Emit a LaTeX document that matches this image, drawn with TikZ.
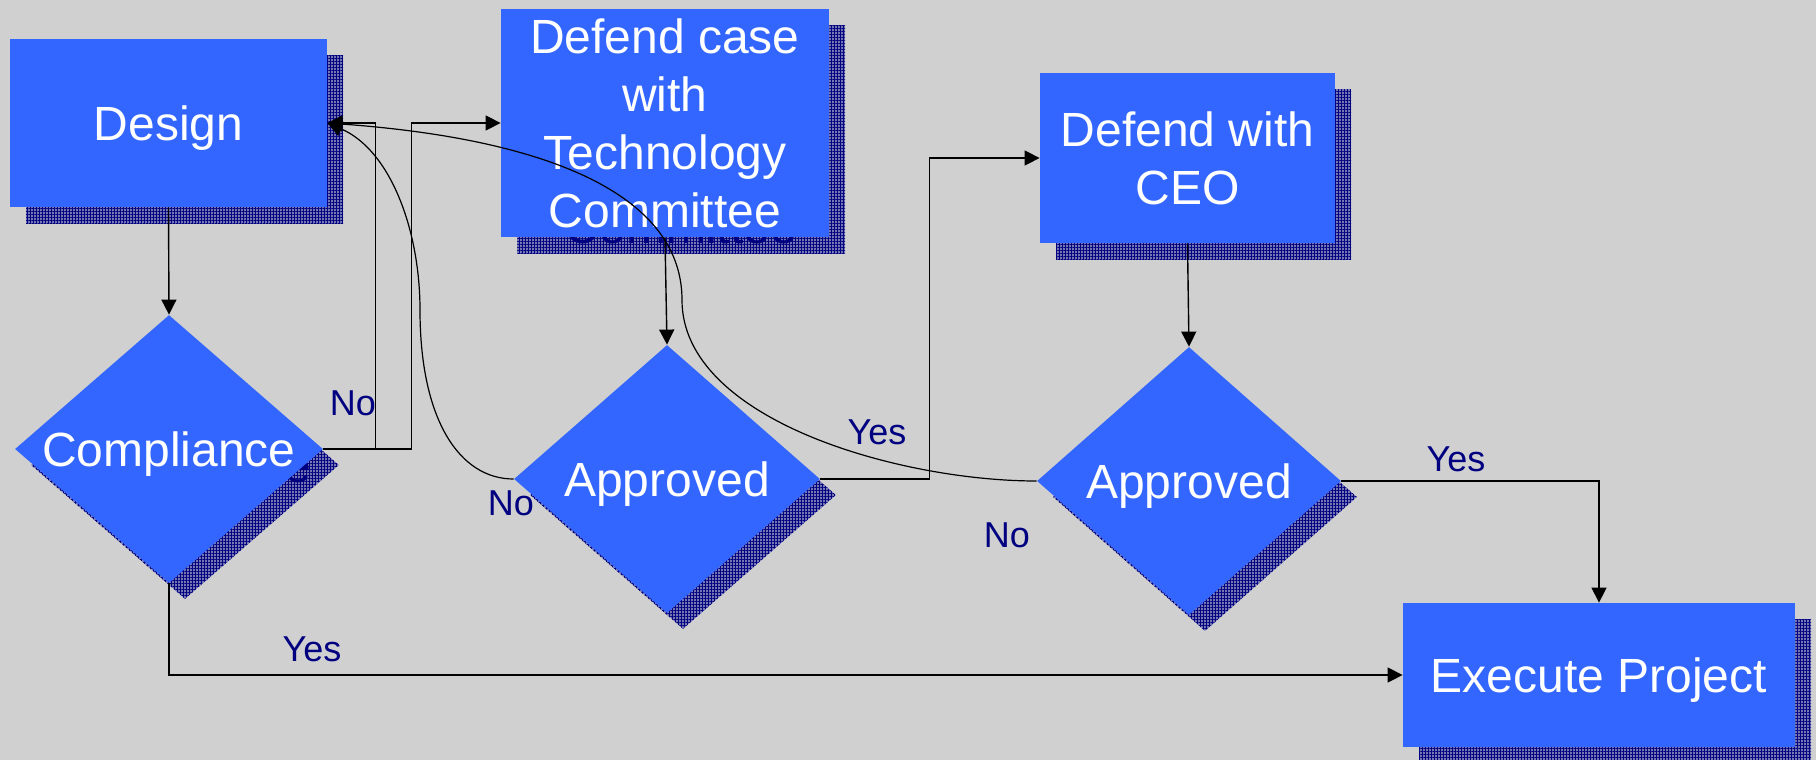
\documentclass[tikz,border=0pt]{standalone}
\usepackage{fontspec}
\setmainfont{Liberation Sans}
\usetikzlibrary{shapes.geometric,arrows.meta,patterns.meta}
\definecolor{bgc}{RGB}{208,208,208}
\definecolor{boxc}{RGB}{51,102,255}
\definecolor{shc}{RGB}{118,118,178}
\definecolor{navyc}{RGB}{0,0,128}
\tikzset{
  nodefont/.style={font=\fontsize{24pt}{29pt}\selectfont},
  box/.style={rectangle, fill=boxc, text=white, inner sep=0pt, align=center, text depth=0pt, nodefont},
  boxsh/.style={rectangle, fill=shc, postaction={pattern={Hatch[angle=0,distance=1.5pt,line width=0.3pt]}, pattern color=navyc}, text=navyc, inner sep=0pt, align=center, text depth=0pt, nodefont},
  dia/.style={diamond, aspect=1.15, fill=boxc, text=white, inner sep=0pt, text depth=0pt, nodefont},
  diash/.style={diamond, aspect=1.15, fill=shc, postaction={pattern={Hatch[angle=0,distance=1.5pt,line width=0.3pt]}, pattern color=navyc}, text=navyc, inner sep=0pt, text depth=0pt, nodefont},
  lbl/.style={text=navyc, inner sep=0pt, font=\fontsize{18pt}{22pt}\selectfont},
  arr/.style={line width=0.7pt, -{Triangle[length=7.5pt,width=7.5pt]}},
  carr/.style={line width=0.6pt, -{Triangle[length=7.5pt,width=7.5pt]}},
}
\begin{document}
\begin{tikzpicture}[x=0.5pt,y=-0.5pt]
\fill[bgc] (0,0) rectangle (1816,760);
\useasboundingbox (0,0) rectangle (1816,760);

% shadows
\node[boxsh, minimum width=158.5pt, minimum height=84pt] (designsh) at (184.5,139) {Design};
\node[boxsh, minimum width=164pt, minimum height=114pt] (dtcsh) at (681,139) {Defend case\\with\\Technology\\Committee};
\node[boxsh, minimum width=147.5pt, minimum height=85pt] (ceosh) at (1203.5,174) {Defend with\\CEO};
\node[boxsh, minimum width=196pt, minimum height=72pt] (execsh) at (1615,691) {Execute Project};
\node[diash, minimum width=154pt, minimum height=134pt] (complsh) at (185,465) {Compliance};
\node[diash, minimum width=153pt, minimum height=134pt] (appr1sh) at (683,495) {Approved};
\node[diash, minimum width=152pt, minimum height=134pt] (appr2sh) at (1205,497) {Approved};

% labels
\node[lbl] (l1) at (353,403) {No};
\node[lbl] (l2) at (511,503) {No};
\node[lbl] (l3) at (877,432) {Yes};
\node[lbl] (l4) at (1007,535) {No};
\node[lbl] (l5) at (1456,459) {Yes};
\node[lbl] (l6) at (312,649) {Yes};

% main nodes
\node[box, minimum width=158.5pt, minimum height=84pt] (design) at (168.5,123) {Design};
\node[box, minimum width=164pt, minimum height=114pt] (dtc) at (665,123) {Defend case\\with\\Technology\\Committee};
\node[box, minimum width=147.5pt, minimum height=85pt] (ceo) at (1187.5,158) {Defend with\\CEO};
\node[box, minimum width=196pt, minimum height=72pt] (exec) at (1599,675) {Execute Project};
\node[dia, minimum width=154pt, minimum height=134pt] (compl) at (169,449) {Compliance};
\node[dia, minimum width=153pt, minimum height=134pt] (appr1) at (667,479) {Approved};
\node[dia, minimum width=152pt, minimum height=134pt] (appr2) at (1189,481) {Approved};

\coordinate (ca) at (420,310);
\coordinate (cb) at (682,300);

% connectors
\draw[arr] (design.south) -- (compl.north);
\draw[arr] (compl.east) -| ([xshift=24pt]design.east) -- (design.east);
\draw[arr] (compl.east) -| ([xshift=-44.5pt]dtc.west) -- (dtc.west);
\draw[arr] (dtc.south) -- (appr1.north);
\draw[arr] (appr1.east) -| ([xshift=-55pt]ceo.west) -- (ceo.west);
\draw[arr] (ceo.south) -- (appr2.north);
\draw[arr] (appr2.east) -| (exec.north);
\draw[arr] (compl.south) |- (exec.west);
\draw[carr] (appr1.west) .. controls +(-54,0) and +(0,110) .. (ca) .. controls +(0,-80) and +(63,27) .. (design.east);
\draw[carr] (appr2.west) .. controls +(-137,0) and +(0,120) .. (cb) .. controls +(0,-100) and +(233,17) .. (design.east);
\end{tikzpicture}
\end{document}
